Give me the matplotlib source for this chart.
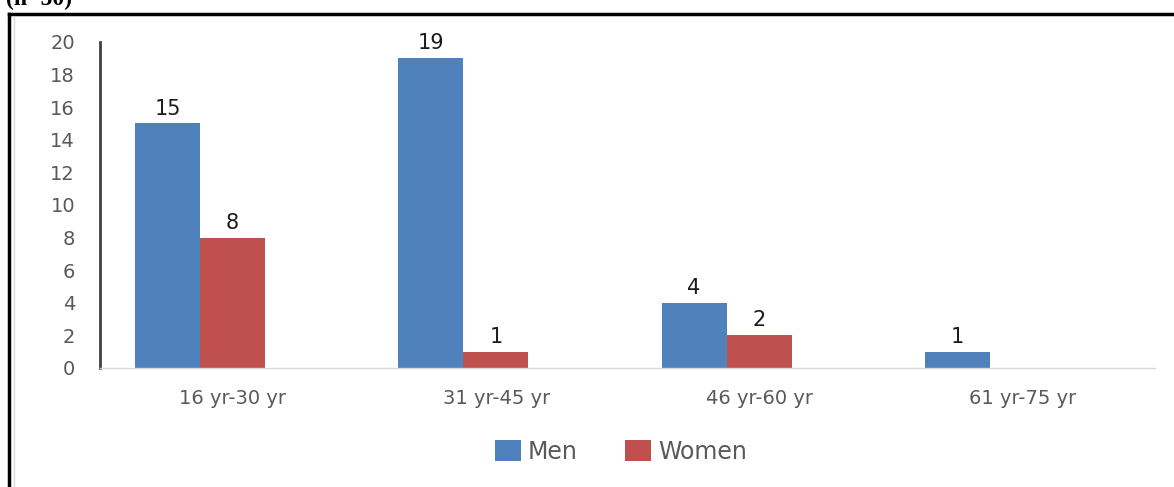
import matplotlib.pyplot as plt
import numpy as np
from matplotlib.lines import Line2D

plt.rcParams['font.family'] = ['DejaVu Sans']

categories = ['16 yr-30 yr', '31 yr-45 yr', '46 yr-60 yr', '61 yr-75 yr']
men = [15, 19, 4, 1]
women = [8, 1, 2, None]

MEN_C = '#4F81BD'
WOMEN_C = '#C0504D'
GRAY = '#595959'

fig = plt.figure(figsize=(11.74, 4.87), dpi=100)
ax = fig.add_axes([0.0852, 0.2444, 0.8986, 0.6694])

x = np.arange(len(categories))
w = 0.247
women_vals = [v if v is not None else 0 for v in women]
b1 = ax.bar(x - w / 2, men, w, color=MEN_C, label='Men')
b2 = ax.bar(x + w / 2, women_vals, w, color=WOMEN_C, label='Women')

for rect, v in zip(b1, men):
    ax.text(rect.get_x() + rect.get_width() / 2, v + 0.3, str(v),
            ha='center', va='bottom', fontsize=15, color='#1a1a1a')
for rect, v in zip(b2, women):
    if v is None:
        continue
    ax.text(rect.get_x() + rect.get_width() / 2, v + 0.3, str(v),
            ha='center', va='bottom', fontsize=15, color='#1a1a1a')

ax.set_xlim(-0.38, 3.627)
ax.set_ylim(0, 20)
ax.set_yticks(range(0, 21, 2))
# category labels sit a little right of the bar groups in the original
ax.set_xticks(x + 0.125)
ax.set_xticklabels(categories)
ax.tick_params(axis='both', length=0, labelsize=14, labelcolor=GRAY)
ax.tick_params(axis='y', pad=18)
ax.tick_params(axis='x', pad=15)

for s in ['top', 'right']:
    ax.spines[s].set_visible(False)
ax.spines['left'].set_color('#404040')
ax.spines['left'].set_linewidth(2)
ax.spines['bottom'].set_color('#D9D9D9')
ax.spines['bottom'].set_linewidth(1)

fig.legend(handles=[b1, b2], labels=['Men', 'Women'], loc='center',
           bbox_to_anchor=(0.529, 0.072), ncol=2, frameon=False,
           fontsize=17, labelcolor=GRAY, handlelength=1.1, handleheight=1.0,
           handletextpad=0.3, columnspacing=2.0)

# outer frame
fig.add_artist(Line2D([0.0077, 0.0077], [0, 0.972], color='black', lw=2.5,
                      transform=fig.transFigure))
fig.add_artist(Line2D([0.0077, 1.0], [0.972, 0.972], color='black', lw=2.5,
                      transform=fig.transFigure))
fig.add_artist(Line2D([0.0115, 0.0115], [0, 0.966], color='#D9D9D9', lw=1,
                      transform=fig.transFigure))

fig.text(0.005, 0.9897, '(n=50)', fontsize=17, fontweight='bold',
         family='Liberation Serif', va='baseline', ha='left')

fig.savefig('out.png', dpi=100, facecolor='white')
